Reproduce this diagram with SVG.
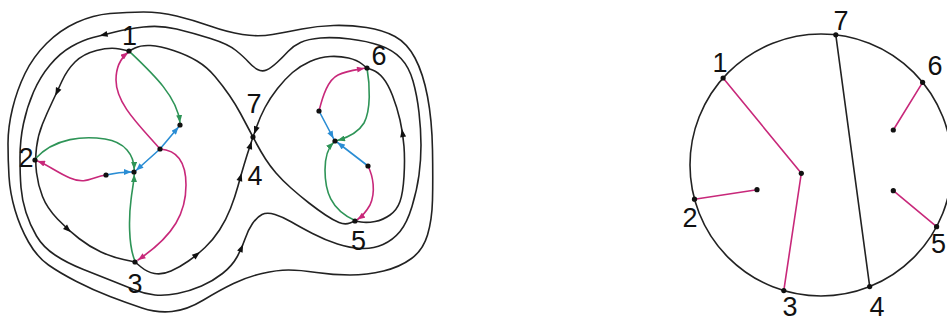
<svg xmlns="http://www.w3.org/2000/svg" width="947" height="322" viewBox="0 0 947 322">
<style>
.k{fill:none;stroke:#222;stroke-width:1.6;stroke-linejoin:round;stroke-linecap:round}
.m{fill:none;stroke:#c8287a;stroke-width:1.6;stroke-linecap:round}
.g{fill:none;stroke:#2e9457;stroke-width:1.6;stroke-linecap:round}
.b{fill:none;stroke:#2a8dd4;stroke-width:1.6;stroke-linecap:round}
.mm{marker-end:url(#am)}
.gm{marker-end:url(#ag)}
.bm{marker-end:url(#ab)}
.d{fill:#111}
.t{font-family:"Liberation Sans",Arial,sans-serif;font-size:27px;fill:#111;text-anchor:middle}
</style>
<defs>
<marker id="am" viewBox="0 0 10 8" refX="10" refY="4" markerWidth="8" markerHeight="6" markerUnits="userSpaceOnUse" orient="auto"><path d="M0,0 L10,4 L0,8 Z" fill="#c8287a"/></marker>
<marker id="ag" viewBox="0 0 10 8" refX="10" refY="4" markerWidth="8" markerHeight="6" markerUnits="userSpaceOnUse" orient="auto"><path d="M0,0 L10,4 L0,8 Z" fill="#2e9457"/></marker>
<marker id="ab" viewBox="0 0 10 8" refX="10" refY="4" markerWidth="8" markerHeight="6" markerUnits="userSpaceOnUse" orient="auto"><path d="M0,0 L10,4 L0,8 Z" fill="#2a8dd4"/></marker>
<path id="ah" d="M4,0 L-4,-3 L-4,3 Z" fill="#111"/>
</defs>

<g id="connectors">
<!-- outer loop -->
<path class="k" d="M176.5,16 Q160,12 143.5,12 Q127,12 110,13.5 Q93,15 76.5,22.5 Q60,30 46.5,43.5 Q33,57 25,73.5 Q17,90 12.5,108.5 Q8,127 8,143.5 Q8,160 9,176.5 Q10,193 15,210 Q20,227 28.5,242 Q37,257 48.5,265 Q60,273 76.5,281.5 Q93,290 110,296.5 Q127,303 142,308 Q157,313 172,311.5 Q187,310 203.5,300 Q220,290 233.5,283.5 Q247,277 262,273.5 Q277,270 288.5,270 Q300,270 316.5,272.5 Q333,275 350,275 Q367,275 383.5,271 Q400,267 411.5,258.5 Q423,250 427.5,235 Q432,220 432.5,200 Q433,180 432.5,150 Q432,120 427.5,96.5 Q423,73 415,58 Q407,43 395,36.5 Q383,30 366.5,27.5 Q350,25 333.5,25.5 Q317,26 302,29 Q287,32 272.5,34.5 Q258,37 242.5,34.5 Q227,32 210,26 Q193,20 176.5,16 Z"/>
<!-- middle loop -->
<path class="k" d="M176.5,29 Q160,25 143.5,27 Q127,29 115,32 Q103,35 93,37.5 Q83,40 71.5,46.5 Q60,53 50,65 Q40,77 33.5,92 Q27,107 23.5,123.5 Q20,140 20,157.5 Q20,175 21,187.5 Q22,200 26,212.5 Q30,225 36.5,236 Q43,247 55,255 Q67,263 83.5,269.5 Q100,276 112.5,281 Q125,286 135,290 Q145,294 155,295 Q165,296 177.5,293.5 Q190,291 201.5,286 Q213,281 222.5,273.5 Q232,266 237,257 Q242,248 245,239 Q248,230 252.5,223.5 Q257,217 262,214.5 Q267,212 275,214.5 Q283,217 291.5,222 Q300,227 312.5,233.5 Q325,240 337.5,244 Q350,248 361.5,248.5 Q373,249 383,244.5 Q393,240 400,231.5 Q407,223 412,206.5 Q417,190 419,175 Q421,160 421,145 Q421,130 419,112.5 Q417,95 413,81 Q409,67 401,58.5 Q393,50 380,45.5 Q367,41 350,39 Q333,37 320.5,38 Q308,39 300.5,42.5 Q293,46 288,51.5 Q283,57 277,62.5 Q271,68 266.5,70 Q262,72 257.5,69.5 Q253,67 248.5,62 Q244,57 236,50.5 Q228,44 210.5,38.5 Q193,33 176.5,29 Z"/>
<!-- inner figure-eight -->
<path class="k" d="M257,144.5 Q253,137 249,129.5 Q245,122 240.5,113.5 Q236,105 229.5,95.5 Q223,86 215,76.5 Q207,67 197,61 Q187,55 173.5,50.5 Q160,46 150.5,45.5 Q141,45 135,48 Q129,51 129,51 Q129,51 119.5,49 Q110,47 96.5,50.5 Q83,54 75,62 Q67,70 62,81 Q57,92 52,102.5 Q47,113 42.5,124 Q38,135 36.5,147.5 Q35,160 36.5,172.5 Q38,185 42.5,196.5 Q47,208 57.5,219 Q68,230 79,238.5 Q90,247 101,252 Q112,257 123.5,259.5 Q135,262 135,262 Q135,262 141,267 Q147,272 154.5,273.5 Q162,275 171,271 Q180,267 188.5,261 Q197,255 205,247.5 Q213,240 219.5,230 Q226,220 230.5,208.5 Q235,197 238,186 Q241,175 244,165 Q247,155 250,146 Q253,137 256.5,127 Q260,117 265,107.5 Q270,98 277.5,88.5 Q285,79 292.5,72.5 Q300,66 310,61.5 Q320,57 330,56.5 Q340,56 348.5,58 Q357,60 362,64 Q367,68 367,68 Q367,68 372.5,70 Q378,72 383,78 Q388,84 392.5,95.5 Q397,107 400,120 Q403,133 404,146.5 Q405,160 404,176.5 Q403,193 400,201.5 Q397,210 390,215 Q383,220 375,221.5 Q367,223 361,222 Q355,221 355,221 Q355,221 350,223 Q345,225 339,222.5 Q333,220 325.5,215 Q318,210 309,203 Q300,196 291,188 Q282,180 276,173 Q270,166 265.5,159 Q261,152 257,144.5 Z"/>
<!-- arrowheads on black curves -->
<use href="#ah" transform="translate(57,92) rotate(115)"/>
<use href="#ah" transform="translate(68,229.5) rotate(42)"/>
<use href="#ah" transform="translate(196.8,254.6) rotate(-39)"/>
<use href="#ah" transform="translate(240.5,177) rotate(-74)"/>
<use href="#ah" transform="translate(250.5,145) rotate(-72)"/>
<use href="#ah" transform="translate(255.5,130.5) rotate(109)"/>
<use href="#ah" transform="translate(402.5,133) rotate(-99)"/>
<use href="#ah" transform="translate(103.5,34.9) rotate(166)"/>
<use href="#ah" transform="translate(241.5,248) rotate(-66)"/>

<!-- left lobe coloured connectors -->
<path class="m mm" d="M160,149 C140,126 116,104 116,80 C116,68 121,58 128,52.5"/>
<path class="m mm" d="M160,149 C176,150 186,160 186,185 C186,212 175,235 138,260"/>
<path class="m mm" d="M106,175 C92,177 86,185 70,178 C58,173 48,165 37.5,161"/>
<path class="g gm" d="M130,52 C152,73 177,96 180,122.5"/>
<path class="g gm" d="M35,159 C55,137 85,136 105,139 C125,142 134,155 134.2,169.5"/>
<path class="g gm" d="M135,261 C128,245 129,215 131,200 C132,190 134,182 134.2,174.5"/>
<path class="b bm" d="M160,149 L178.5,127"/>
<path class="b bm" d="M160,149 L136,170.5"/>
<path class="b bm" d="M106,175 C115,173 124,172 131.5,172"/>

<!-- right lobe coloured connectors -->
<path class="m mm" d="M319,111 C323,95 328,80 338,75 C346,71 355,70 364.5,68.3"/>
<path class="m mm" d="M368,166 C373,176 376,192 370,205 C366,212 361,217 357.5,219.5"/>
<path class="g gm" d="M367,68 C370,85 371,110 364,123 C358,133 346,138 337.5,140.5"/>
<path class="g gm" d="M356,221 C330,210 325,190 325,170 C325,155 329,147 333.5,142.5"/>
<path class="b bm" d="M319,111 L333.5,138.5"/>
<path class="b bm" d="M368,166 L337.5,142.5"/>

<!-- right figure -->
<circle class="k" cx="821" cy="165" r="131"/>
<path class="k" d="M835.8,34.8 L869.7,286.6"/>
<path class="m" d="M723.1,78 L801.3,173.3 L783.8,290.6"/>
<path class="m" d="M694.5,199.2 L757,189.7"/>
<path class="m" d="M922.6,82.3 L893.3,130"/>
<path class="m" d="M936.6,226.7 L893.3,190.7"/>
</g>

<g id="node-L1"><circle class="d" cx="129" cy="51" r="2.6"/><text class="t" x="129.5" y="45">1</text></g>
<g id="node-L2"><circle class="d" cx="35" cy="160" r="2.6"/><text class="t" x="26" y="167">2</text></g>
<g id="node-L3"><circle class="d" cx="135" cy="262" r="2.6"/><text class="t" x="135" y="293">3</text></g>
<g id="node-L4"><text class="t" x="255" y="185">4</text></g>
<g id="node-L5"><circle class="d" cx="355" cy="221" r="2.6"/><text class="t" x="358.5" y="250">5</text></g>
<g id="node-L6"><circle class="d" cx="367" cy="68" r="2.6"/><text class="t" x="379" y="65">6</text></g>
<g id="node-L7"><circle class="d" cx="253" cy="137" r="2.6"/><text class="t" x="254" y="113">7</text></g>
<g id="node-LA"><circle class="d" cx="180" cy="125" r="2.6"/></g>
<g id="node-LB"><circle class="d" cx="160" cy="149" r="2.6"/></g>
<g id="node-LC"><circle class="d" cx="134" cy="172" r="2.6"/></g>
<g id="node-LD"><circle class="d" cx="106" cy="175" r="2.6"/></g>
<g id="node-LE"><circle class="d" cx="335" cy="141" r="2.6"/></g>
<g id="node-LF"><circle class="d" cx="319" cy="111" r="2.6"/></g>
<g id="node-LG"><circle class="d" cx="368" cy="166" r="2.6"/></g>

<g id="node-R1"><circle class="d" cx="723.1" cy="78" r="2.6"/><text class="t" x="720" y="72">1</text></g>
<g id="node-R2"><circle class="d" cx="694.5" cy="199.2" r="2.6"/><text class="t" x="690" y="227">2</text></g>
<g id="node-R3"><circle class="d" cx="783.8" cy="290.6" r="2.6"/><text class="t" x="790" y="316">3</text></g>
<g id="node-R4"><circle class="d" cx="869.7" cy="286.6" r="2.6"/><text class="t" x="877" y="316">4</text></g>
<g id="node-R5"><circle class="d" cx="936.6" cy="226.7" r="2.6"/><text class="t" x="938.5" y="253">5</text></g>
<g id="node-R6"><circle class="d" cx="922.6" cy="82.3" r="2.6"/><text class="t" x="935" y="75">6</text></g>
<g id="node-R7"><circle class="d" cx="835.8" cy="34.8" r="2.6"/><text class="t" x="841" y="30">7</text></g>
<g id="node-RC"><circle class="d" cx="801.3" cy="173.3" r="2.6"/></g>
<g id="node-RD"><circle class="d" cx="757" cy="189.7" r="2.6"/></g>
<g id="node-RF"><circle class="d" cx="893.3" cy="130" r="2.6"/></g>
<g id="node-RG"><circle class="d" cx="893.3" cy="190.7" r="2.6"/></g>
</svg>
